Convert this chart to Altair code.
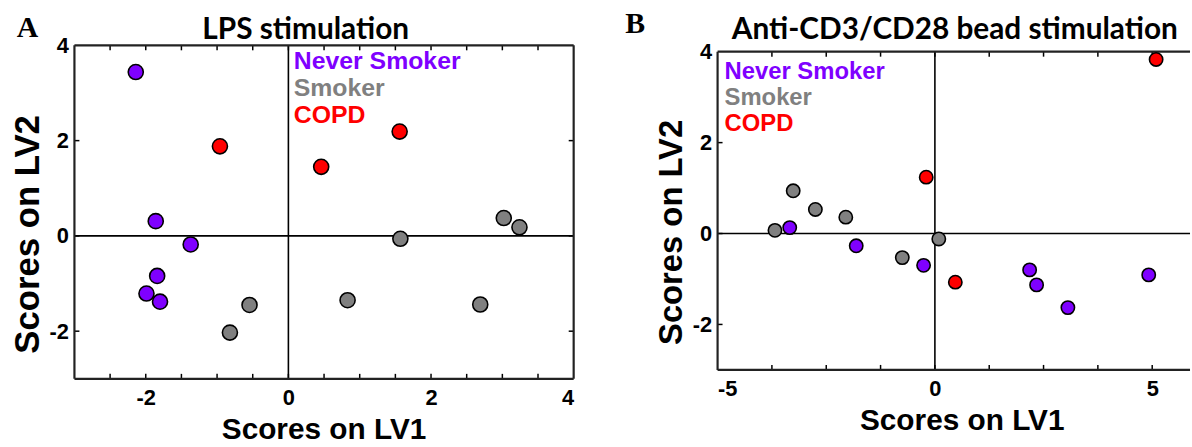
import altair as alt
import pandas as pd

groups = ["Never Smoker", "Smoker", "COPD"]
group_colors = ["#7f00ff", "#808080", "#ff0000"]

# Panel A: LPS stimulation (scores on LV1, LV2)
a_never_x = [-2.14, -1.86, -1.37, -1.84, -1.99, -1.80]
a_never_y = [3.44, 0.31, -0.18, -0.84, -1.21, -1.38]
a_smoker_x = [3.02, 3.24, 1.57, 0.83, 2.69, -0.545, -0.82]
a_smoker_y = [0.375, 0.18, -0.06, -1.35, -1.44, -1.45, -2.03]
a_copd_x = [-0.96, 0.46, 1.56]
a_copd_y = [1.88, 1.45, 2.19]

# Panel B: Anti-CD3/CD28 bead stimulation
b_never_x = [-3.34, -1.81, -0.26, 2.18, 2.34, 3.06, 4.92]
b_never_y = [0.13, -0.27, -0.70, -0.80, -1.13, -1.63, -0.91]
b_smoker_x = [-3.26, -2.75, -2.05, -3.68, 0.09, -0.75]
b_smoker_y = [0.94, 0.53, 0.36, 0.07, -0.12, -0.53]
b_copd_x = [-0.20, 0.47, 5.09]
b_copd_y = [1.24, -1.07, 3.83]

a_xlabels = [-2, 0, 2, 4]
a_ylabels = [-2, 0, 2, 4]
a_xticks = [-2.5, -2, -1.5, -1, -0.5, 0, 0.5, 1, 1.5, 2, 2.5, 3, 3.5]
a_yticks = [-2, 0, 2]

b_xlabels = [-5, 0, 5]
b_ylabels = [-2, 0, 2, 4]
b_xticks = [-3.75, -2.5, -1.25, 0, 1.25, 2.5, 3.75, 5]
b_yticks = [-2, 0, 2]


def make_df(nx, ny, sx, sy, cx, cy):
    rows = []
    for g, xs, ys in zip(groups, [nx, sx, cx], [ny, sy, cy]):
        for x, y in zip(xs, ys):
            rows.append({"x": x, "y": y, "group": g})
    return pd.DataFrame(rows)


def panel(df, W, H, xdom, ydom, ytop, xlabels, ylabels, xticks, yticks, title,
          title_x, title_y, letter, letter_x, letter_y, pt_size,
          leg_x, leg_y0, leg_step, leg_size, right_border,
          ytitle_size, ytitle_y, xtitle_x):
    # pixel row of the frame's top edge (value ytop) inside the plot group
    top_px = H * (ydom[1] - ytop) / (ydom[1] - ydom[0])
    xs = alt.Scale(domain=xdom, nice=False, zero=False)
    ys = alt.Scale(domain=ydom, nice=False, zero=False)
    xax = alt.Axis(values=xlabels, title="Scores on LV1", ticks=False, grid=False,
                   domain=False, labelExpr="'' + datum.value", labelPadding=9,
                   titlePadding=6, titleFontSize=30, titleX=xtitle_x)
    yax = alt.Axis(values=ylabels, title="Scores on LV2", ticks=False, grid=False,
                   domain=False, labelExpr="'' + datum.value", labelPadding=6,
                   titlePadding=4, titleFontSize=ytitle_size, titleY=ytitle_y)

    def X(f):
        return alt.X(f, type="quantitative", scale=xs, axis=xax)

    def Y(f):
        return alt.Y(f, type="quantitative", scale=ys, axis=yax)

    zero = pd.DataFrame({"v": [0]})
    layers = []
    # zero lines
    layers.append(alt.Chart(zero).mark_rule(color="black", strokeWidth=1.6).encode(
        x=X("v"), y=alt.value(top_px), y2=alt.value(H)))
    layers.append(alt.Chart(zero).mark_rule(color="black", strokeWidth=1.6).encode(
        y=Y("v"), x=alt.value(0), x2=alt.value(W)))
    # ticks (inward, on every drawn side)
    xt = pd.DataFrame({"t": xticks})
    yt = pd.DataFrame({"t": yticks})
    layers.append(alt.Chart(xt).mark_rule(color="black", strokeWidth=1.5).encode(
        x=X("t"), y=alt.value(H - 5), y2=alt.value(H)))
    layers.append(alt.Chart(xt).mark_rule(color="black", strokeWidth=1.5).encode(
        x=X("t"), y=alt.value(top_px), y2=alt.value(top_px + 5)))
    layers.append(alt.Chart(yt).mark_rule(color="black", strokeWidth=1.5).encode(
        y=Y("t"), x=alt.value(0), x2=alt.value(5)))
    if right_border:
        layers.append(alt.Chart(yt).mark_rule(color="black", strokeWidth=1.5).encode(
            y=Y("t"), x=alt.value(W - 5), x2=alt.value(W)))
    # frame
    fr = alt.Chart(zero).mark_rule(color="#222222", strokeWidth=2.2)
    layers.append(fr.encode(x=alt.value(0), x2=alt.value(W), y=alt.value(top_px)))
    layers.append(fr.encode(x=alt.value(0), x2=alt.value(W), y=alt.value(H)))
    layers.append(fr.encode(x=alt.value(0), y=alt.value(top_px), y2=alt.value(H)))
    if right_border:
        layers.append(fr.encode(x=alt.value(W), y=alt.value(top_px), y2=alt.value(H)))
    # points
    layers.append(alt.Chart(df).mark_circle(size=pt_size, opacity=1, stroke="black",
                                            strokeWidth=1.6).encode(
        x=X("x"), y=Y("y"),
        color=alt.Color("group:N", scale=alt.Scale(domain=groups, range=group_colors),
                        legend=None)))
    # legend texts
    for i, (g, c) in enumerate(zip(groups, group_colors)):
        layers.append(alt.Chart(pd.DataFrame({"t": [g]})).mark_text(
            align="left", baseline="alphabetic", font="Liberation Sans",
            fontWeight="bold", fontSize=leg_size, color=c).encode(
            text="t:N", x=alt.value(leg_x), y=alt.value(leg_y0 + i * leg_step)))
    # panel letter
    layers.append(alt.Chart(pd.DataFrame({"t": [letter]})).mark_text(
        align="left", baseline="alphabetic", font="Liberation Serif",
        fontWeight="bold", fontSize=30, color="black").encode(
        text="t:N", x=alt.value(letter_x), y=alt.value(letter_y)))
    # panel title
    layers.append(alt.Chart(pd.DataFrame({"t": [title]})).mark_text(
        align="center", baseline="alphabetic", font="Lato",
        fontWeight="bold", fontSize=30, color="black").encode(
        text="t:N", x=alt.value(title_x), y=alt.value(title_y)))

    return alt.layer(*layers).properties(width=W, height=H)


dfA = make_df(a_never_x, a_never_y, a_smoker_x, a_smoker_y, a_copd_x, a_copd_y)
dfB = make_df(b_never_x, b_never_y, b_smoker_x, b_smoker_y, b_copd_x, b_copd_y)

A = panel(dfA, 503, 336, [-3, 4], [-3, 4], 4, a_xlabels, a_ylabels, a_xticks, a_yticks,
          "LPS stimulation", 233, -6, "A", -58, -8, 230, 221, 24, 27, 25, True,
          35, 190, 251)
# panel B: plot frame starts ~6 px lower than panel A
B = panel(dfB, 476, 327, [-5, 5.87], [-3, 4.14], 4, b_xlabels, b_ylabels, b_xticks, b_yticks,
          "Anti-CD3/CD28 bead stimulation", 239, -6, "B", -93, -12, 180, 7, 34, 26, 24, False,
          33, 188, 246)

chart = alt.hconcat(A, B, spacing=50).properties(
    padding={"left": 10, "top": 8, "right": 0, "bottom": 0}
).configure_view(stroke=None).configure_axis(
    labelFont="Liberation Sans", labelFontSize=22, labelFontWeight="bold",
    labelColor="black", titleFont="Liberation Sans", titleFontSize=30,
    titleFontWeight="bold", titleColor="black"
)

chart.save("out.html", embed_options={"renderer": "svg", "actions": False})
